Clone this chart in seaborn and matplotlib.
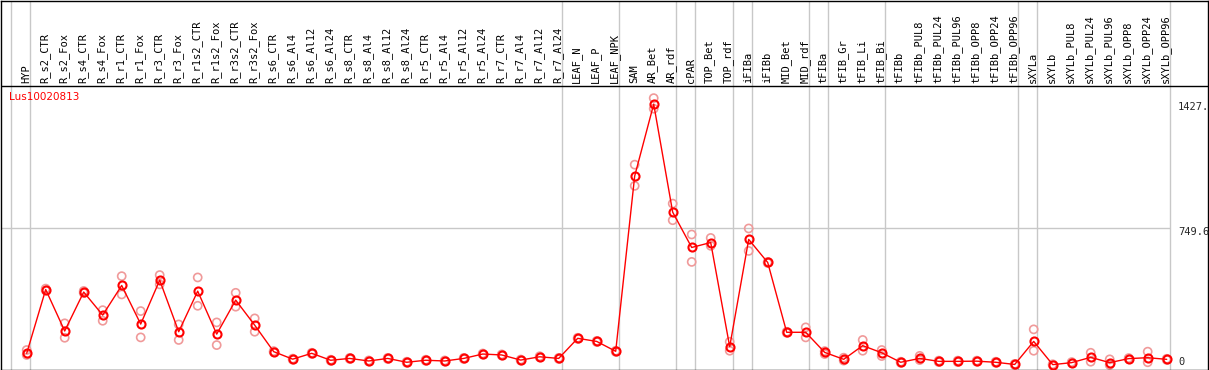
import matplotlib
matplotlib.use("Agg")
import matplotlib.pyplot as plt
import seaborn as sns
import numpy as np

sns.set_style("white")
plt.rcParams['font.family'] = ['DejaVu Sans Mono', 'DejaVu Sans']

# amostras (eixo x)
categorias = [
    "HYP", "R_s2_CTR", "R_s2_Fox", "R_s4_CTR", "R_s4_Fox", "R_r1_CTR", "R_r1_Fox",
    "R_r3_CTR", "R_r3_Fox", "R_r1s2_CTR", "R_r1s2_Fox", "R_r3s2_CTR", "R_r3s2_Fox",
    "R_s6_CTR", "R_s6_Al4", "R_s6_Al12", "R_s6_Al24", "R_s8_CTR", "R_s8_Al4",
    "R_s8_Al12", "R_s8_Al24", "R_r5_CTR", "R_r5_Al4", "R_r5_Al12", "R_r5_Al24",
    "R_r7_CTR", "R_r7_Al4", "R_r7_Al12", "R_r7_Al24", "LEAF_N", "LEAF_P", "LEAF_NPK",
    "SAM", "AR_Bet", "AR_rdf", "cPAR", "TOP_Bet", "TOP_rdf", "iFIBa", "iFIBb",
    "MID_Bet", "MID_rdf", "tFIBa", "tFIB_Gr", "tFIB_Li", "tFIB_Bi", "tFIBb",
    "tFIBb_PUL8", "tFIBb_PUL24", "tFIBb_PUL96", "tFIBb_OPP8", "tFIBb_OPP24",
    "tFIBb_OPP96", "sXYLa", "sXYLb", "sXYLb_PUL8", "sXYLb_PUL24", "sXYLb_PUL96",
    "sXYLb_OPP8", "sXYLb_OPP24", "sXYLb_OPP96",
]

# media das replicas
media = [
    64, 413, 186, 399, 273, 435, 224, 464, 182, 404, 169, 355, 218,
    73, 32, 64, 26, 36, 22, 36, 15, 26, 22, 36, 60, 55, 27, 45, 36,
    146, 129, 75, 1034, 1427, 836, 643, 670, 100, 687, 561, 179, 179,
    69, 31, 106, 67, 15, 36, 20, 20, 21, 15, 3, 129, 2, 13, 42, 13, 35, 40, 31,
]

# replicas (alta / baixa)
rep_alta = [
    82, 418, 228, 405, 300, 486, 295, 492, 222, 479, 233, 395, 255,
    76, 35, 67, 29, 39, 25, 39, 18, 29, 25, 39, 63, 58, 30, 48, 39,
    149, 132, 78, 1096, 1460, 883, 714, 695, 127, 747, 564, 182, 206,
    76, 40, 137, 82, 18, 50, 24, 24, 24, 18, 6, 195, 4, 16, 67, 31, 38, 73, 34,
]
rep_baixa = [
    55, 408, 149, 394, 242, 386, 151, 441, 137, 324, 109, 319, 182,
    70, 29, 61, 23, 33, 19, 33, 12, 23, 19, 33, 57, 52, 24, 42, 33,
    143, 126, 72, 980, 1402, 792, 564, 652, 78, 624, 558, 176, 151,
    60, 24, 78, 49, 12, 27, 16, 16, 18, 12, 0, 78, 0, 10, 18, 0, 32, 15, 28,
]

# fim de cada grupo (linhas separadoras)
fim_grupos = [-1, 0, 28, 31, 34, 35, 37, 38, 41, 42, 45, 52, 53, 60]

gene = "Lus10020813"
ticks_y = [0, 749.6, 1427]
ticks_y_txt = ["0", "749.6", "1427."]

# escala em pixels
px_por_unid = 5.463
x0_px, dx_px = 26.7, 19.0
W, H = 1209, 370
y0_px = 365


def vy(py):
    return (y0_px - py) * px_por_unid


def vx(px):
    return (px - x0_px) / dx_px


fig = plt.figure(figsize=(W / 100, H / 100), dpi=100)
ax = fig.add_axes([0.5 / W, 0.5 / H, 1 - 1.5 / W, 1 - 1.5 / H])
ax.set_xlim(vx(0.5), vx(W - 1))
ax.set_ylim(vy(H - 0.5), vy(0.5))

x = np.arange(len(categorias))

# linhas de grade
for g in fim_grupos:
    ax.axvline(g + 0.17, color="#c8c8c8", lw=1, zorder=0)
ax.hlines(749.6, vx(0), fim_grupos[-1] + 0.17, color="#c8c8c8", lw=1, zorder=0)
ax.axhline(vy(86), color="black", lw=1, zorder=1)

# replicas
for rep in (rep_alta, rep_baixa):
    sns.scatterplot(x=x, y=rep, ax=ax, marker="o", s=34, linewidth=1.2,
                    edgecolor="#f09a9a", zorder=2, legend=False)
    ax.collections[-1].set_facecolor("none")

# media
sns.lineplot(x=x, y=media, ax=ax, color="red", linewidth=1, marker="o",
             markersize=5.8, markerfacecolor="none", markeredgecolor="red",
             markeredgewidth=1.5, zorder=3)

# rotulos das amostras (cabecalho)
for i, nome in enumerate(categorias):
    ax.text(i - 0.05, vy(83), nome, rotation=90, ha="center", va="bottom",
            fontsize=7.5, color="black", clip_on=False)

ax.text(vx(9), vy(97), gene, color="red", fontsize=7.5, va="center", ha="left",
        family=["DejaVu Sans"])

for v, t, py in zip(ticks_y, ticks_y_txt, [362, 232, 107]):
    ax.text(vx(1178), vy(py), t, fontsize=7.5, va="center", ha="left")

ax.set_xticks([])
ax.set_yticks([])
ax.set_xlabel("")
ax.set_ylabel("")
for s in ax.spines.values():
    s.set_color("black")
    s.set_linewidth(1)

plt.savefig("out.png", dpi=100)
